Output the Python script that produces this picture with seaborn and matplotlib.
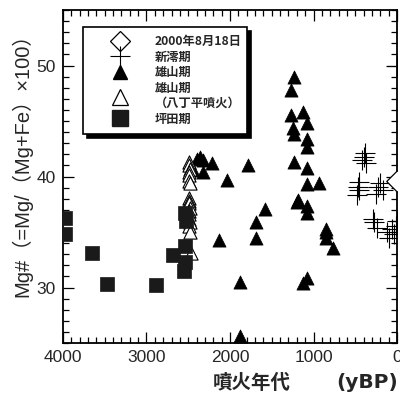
import matplotlib
matplotlib.use("Agg")
import matplotlib.pyplot as plt
import seaborn as sns
import pandas as pd
from matplotlib.ticker import MultipleLocator
from matplotlib.lines import Line2D

sns.set_style("white")
plt.rcParams['font.family'] = ['Noto Sans CJK JP', 'DejaVu Sans']

# ---- data (age yBP, Mg#) ----
diamond_x = [0]
diamond_y = [39.6]

plus_x = [0, 380, 400, 420, 370, 450, 470, 460, 480, 200, 230, 170, 250,
          290, 270, 240, 120, 90, 60, 30, 10, 0]
plus_y = [50.0, 42.1, 41.8, 41.5, 41.2, 39.5, 39.1, 38.8, 38.3, 39.4, 39.1,
          38.8, 38.4, 36.2, 35.9, 35.4, 35.0, 34.5, 35.3, 34.8, 35.5, 36.0]

tri_x = [2360, 2400, 2320, 2220, 2320, 2440, 2040, 1780, 2130, 1690, 1690,
         1880, 1880, 1230, 1270, 1270, 1130, 1080, 1250, 1230, 1080, 1080,
         1230, 1080, 1080, 930, 1190, 1200, 1080, 1080, 1580, 850, 850, 850,
         770, 1080, 1130]
tri_y = [41.8, 41.6, 41.5, 41.2, 40.4, 40.6, 39.7, 41.0, 34.3, 35.9, 34.5,
         30.5, 25.6, 49.0, 47.8, 45.5, 45.8, 44.8, 44.4, 43.8, 43.4, 42.7,
         41.3, 40.8, 39.3, 39.4, 37.9, 37.7, 37.3, 36.7, 37.1, 35.3, 35.0,
         34.5, 33.6, 30.9, 30.4]

otri_x = [2490, 2495, 2485, 2490, 2495, 2490, 2485, 2490, 2495, 2490, 2485,
          2490, 2495, 2490, 2485, 2490, 2480, 2470]
otri_y = [41.3, 41.0, 40.7, 40.4, 40.1, 39.6, 39.4, 38.1, 37.8, 37.6, 37.2,
          36.9, 36.6, 36.2, 35.9, 35.5, 35.0, 33.1]

sq_x = [3980, 3980, 3650, 3470, 2890, 2680, 2540, 2540, 2540, 2550, 2530]
sq_y = [36.3, 34.8, 33.1, 30.3, 30.2, 32.9, 36.7, 33.7, 32.3, 31.5, 36.0]

labels = ["2000年8月18日", "新澪期", "雄山期", "雄山期\n（八丁平噴火）", "坪田期"]

fig = plt.figure(figsize=(4.0, 3.95), dpi=100)
ax = fig.add_axes([0.1575, 0.1316, 0.835, 0.843])

sns.scatterplot(x=plus_x, y=plus_y, marker='+', s=220, color='black',
                linewidth=0.8, ax=ax, zorder=3)
sns.scatterplot(x=tri_x, y=tri_y, marker='^', s=90, color='black',
                edgecolor='black', linewidth=0.5, ax=ax, zorder=3)
sns.scatterplot(x=otri_x, y=otri_y, marker='^', s=90, facecolor='white',
                edgecolor='black', linewidth=0.8, ax=ax, zorder=3)
sns.scatterplot(x=sq_x, y=sq_y, marker='s', s=115, color='#1a1a1a',
                edgecolor='#1a1a1a', linewidth=0.5, ax=ax, zorder=4)
sns.scatterplot(x=diamond_x, y=diamond_y, marker='D', s=120, facecolor='white',
                edgecolor='black', linewidth=0.9, ax=ax, zorder=5)

ax.set_xlim(4000, 0)
ax.set_ylim(25, 55)
ax.xaxis.set_major_locator(MultipleLocator(1000))
ax.xaxis.set_minor_locator(MultipleLocator(100))
ax.yaxis.set_major_locator(MultipleLocator(10))
ax.yaxis.set_minor_locator(MultipleLocator(1))
ax.tick_params(which='both', direction='in', top=True, right=True,
               bottom=True, left=True, width=0.9, color='black')
ax.tick_params(which='major', length=8, labelsize=12.5, pad=5)
ax.tick_params(which='minor', length=4)
for t in ax.get_xticklabels() + ax.get_yticklabels():
    t.set_family(['Liberation Sans', 'DejaVu Sans'])
for sp in ax.spines.values():
    sp.set_linewidth(1.3)
    sp.set_color('black')

ax.set_ylabel("Mg#（=Mg/（Mg+Fe）×100）", fontsize=14.5,
              family=['Liberation Sans', 'Noto Sans CJK JP', 'DejaVu Sans'])
ax.yaxis.set_label_coords(-0.092, 0.55)
fig.text(213 / 400, 1 - 383 / 395, "噴火年代", fontsize=14,
         fontweight='bold', ha='left', va='center')
fig.text(398 / 400, 1 - 383 / 395, "(yBP)", fontsize=14.5,
         family=['DejaVu Sans'], fontweight='semibold', ha='right', va='center')

handles = [
    Line2D([], [], marker='D', ls='', ms=10, mfc='white', mec='black', mew=0.9),
    Line2D([], [], marker='+', ls='', ms=15, color='black', mew=0.8),
    Line2D([], [], marker='^', ls='', ms=10, color='black'),
    Line2D([], [], marker='^', ls='', ms=11, mfc='white', mec='black', mew=0.9),
    Line2D([], [], marker='s', ls='', ms=11, color='#1a1a1a'),
]
leg = ax.legend(handles, labels, loc='upper left',
                bbox_to_anchor=(0.06, 0.0, 0.491, 0.949), mode='expand',
                frameon=True, fancybox=False, edgecolor='black',
                shadow={'ox': 3, 'oy': -3, 'facecolor': 'black', 'edgecolor': 'black', 'alpha': 1},
                fontsize=8.8, handlelength=4.8, handletextpad=0.4,
                labelspacing=0.22, borderpad=0.65, borderaxespad=0)
leg.get_frame().set_linewidth(1.2)
for t in leg.get_texts():
    t.set_fontweight('bold')

fig.savefig("out.png", dpi=100)
